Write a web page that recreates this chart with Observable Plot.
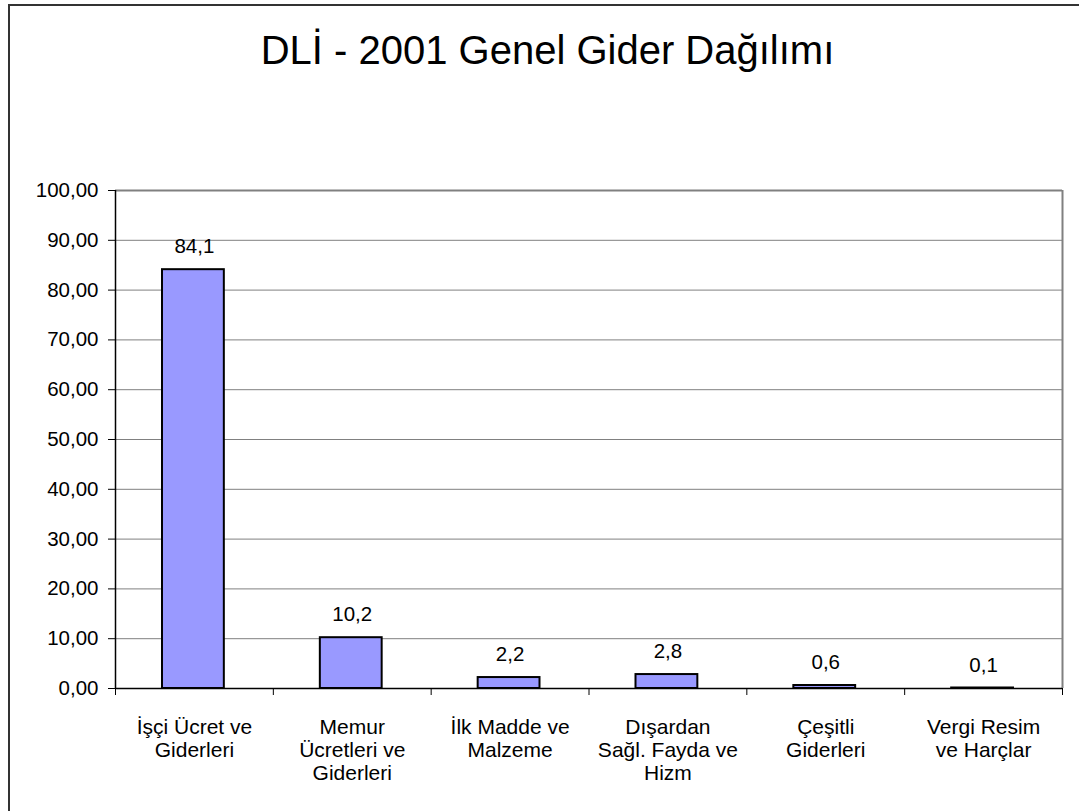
<!DOCTYPE html>
<html>
<head>
<meta charset="utf-8">
<script src="https://cdn.jsdelivr.net/npm/d3@7"></script>
<script src="https://cdn.jsdelivr.net/npm/@observablehq/plot@0.6"></script>
<style>
  html, body { margin: 0; padding: 0; background: #fff; overflow: hidden; }
  #wrap { position: relative; width: 1079px; height: 811px; font-family: Arial, "Liberation Sans", sans-serif; }
  #frame { position: absolute; left: 8px; top: 4px; width: 1100px; height: 900px; border: 2px solid #333; box-sizing: border-box; pointer-events: none; }
  #title { position: relative; height: 100px; width: 1079px; margin-left: 8px; text-align: center; font-size: 40px; line-height: 48px; padding-top: 26px; box-sizing: border-box; color: #000; }
  #chart svg { display: block; }
</style>
</head>
<body>
<div id="wrap">
  <div id="frame"></div>
  <div id="title">DLİ - 2001 Genel Gider Dağılımı</div>
  <div id="chart"></div>
</div>
<script>
const categories = [
  "İşçi Ücret ve\nGiderleri",
  "Memur\nÜcretleri ve\nGiderleri",
  "İlk Madde ve\nMalzeme",
  "Dışardan\nSağl. Fayda ve\nHizm",
  "Çeşitli\nGiderleri",
  "Vergi Resim\nve Harçlar"
];
const values = [84.1, 10.2, 2.2, 2.8, 0.6, 0.1];
const yTicks = [0, 10, 20, 30, 40, 50, 60, 70, 80, 90, 100];

const n = categories.length;
const data = categories.map((c, i) => ({i, category: c, value: values[i]}));
const comma = (v, k) => v.toFixed(k).replace(".", ",");

const chart = Plot.plot({
  width: 1079,
  height: 711,
  marginTop: 90,
  marginLeft: 115,
  marginRight: 17,
  marginBottom: 123,
  x: {domain: [0, n]},
  y: {domain: [0, 100]},
  style: {fontFamily: 'Arial, "Liberation Sans", sans-serif', fontSize: "20px", color: "#000", background: "transparent", overflow: "visible"},
  marks: [
    Plot.gridY({ticks: yTicks.filter(t => t > 0), stroke: "#808080", strokeOpacity: 1, strokeWidth: 1}),
    Plot.ruleY([yTicks[yTicks.length - 1]], {stroke: "#808080", strokeWidth: 2}),
    Plot.ruleX([n], {stroke: "#808080", strokeWidth: 2}),
    Plot.rectY(data, {x1: d => d.i, x2: d => d.i + 1, y: "value", insetLeft: 47, insetRight: 49, fill: "#9999FF", stroke: "#000", strokeWidth: 2}),
    Plot.text(data, {x: d => d.i + 0.5, y: "value", text: d => comma(d.value, 1), dy: -23, fontSize: 20.5, fill: "#000"}),
    Plot.ruleY([0], {stroke: "#000", strokeWidth: 1.5}),
    Plot.ruleX([0], {stroke: "#000", strokeWidth: 1.5}),
    Plot.axisY({ticks: yTicks, tickFormat: d => comma(d, 2), tickSize: 7, tickPadding: 10, fontSize: 20.5, label: null}),
    Plot.axisX({ticks: d3.range(n + 1), tickFormat: () => "", tickSize: 7, label: null}),
    Plot.axisX({ticks: d3.range(n).map(i => i + 0.5), tickFormat: d => categories[Math.floor(d)], tickSize: 0, tickPadding: 29, lineHeight: 1.1, fontSize: 21, label: null})
  ]
});
document.getElementById("chart").appendChild(chart);
</script>
</body>
</html>
